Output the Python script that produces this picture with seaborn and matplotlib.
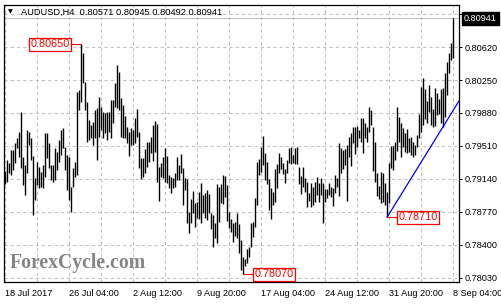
import matplotlib
matplotlib.use("Agg")
import matplotlib.pyplot as plt
import matplotlib.transforms as mtransforms
import numpy as np
import pandas as pd
import seaborn as sns

# ---------------- data (AUDUSD H4 bar highs / lows) ----------------
highs = [
    0.79234, 0.79354, 0.79316, 0.79466, 0.79466, 0.79540, 0.79596, 0.79671, 0.79895, 0.79391,
    0.79297, 0.79690, 0.79671, 0.79596, 0.79398, 0.79148, 0.79335, 0.79279, 0.79223, 0.79297,
    0.79652, 0.79652, 0.79540, 0.79297, 0.79297, 0.79484, 0.79447, 0.79578, 0.79690, 0.79709,
    0.79503, 0.79409, 0.79391, 0.79055, 0.79260, 0.79335, 0.80120, 0.80138, 0.80650, 0.80549,
    0.80232, 0.80008, 0.79802, 0.79746, 0.79783, 0.79914, 0.79933, 0.80064, 0.79952, 0.79895,
    0.79877, 0.79895, 0.79895, 0.80026,
    0.80026, 0.80213, 0.80419, 0.80344, 0.80045, 0.79970, 0.79847, 0.79727, 0.79671, 0.79709,
    0.79690, 0.79821, 0.79922, 0.79671, 0.79372, 0.79372, 0.79473, 0.79552, 0.79552, 0.79608,
    0.79746, 0.79791, 0.79753, 0.79279, 0.79324, 0.79391, 0.79484, 0.79398, 0.79185, 0.79167,
    0.79148, 0.79204, 0.79383, 0.79297, 0.79421, 0.79260, 0.79148, 0.79137, 0.78774, 0.78913,
    0.79006, 0.78875, 0.78886, 0.78999, 0.79092, 0.78961, 0.78980, 0.79017, 0.78969, 0.78763,
    0.78737, 0.78651, 0.79084, 0.79055, 0.79084, 0.79185, 0.79174, 0.79073,
    0.78774, 0.78688, 0.78643, 0.78662, 0.78755, 0.78636, 0.78456, 0.78269, 0.78240, 0.78352,
    0.78374, 0.78643, 0.78662, 0.78923, 0.79334, 0.79360, 0.79495, 0.79622, 0.79428, 0.79334,
    0.79136, 0.79035, 0.78998, 0.79248, 0.79308, 0.79428, 0.79383, 0.79323, 0.79248, 0.79353,
    0.79484, 0.79495, 0.79409, 0.79484, 0.79503, 0.79271, 0.79173, 0.79278, 0.79147, 0.79110,
    0.78987, 0.79099, 0.79047, 0.79110, 0.79159, 0.79099, 0.79147, 0.79099, 0.79024, 0.79024,
    0.79099, 0.79054, 0.79035, 0.79185, 0.79147, 0.79540,
    0.79484, 0.79465, 0.79473, 0.79521, 0.79615, 0.79660, 0.79727, 0.79720, 0.79735, 0.79690,
    0.79820, 0.79820, 0.79764, 0.79727, 0.79944, 0.79914, 0.79720, 0.79559, 0.79211, 0.79062,
    0.79223, 0.79211, 0.79092, 0.78998, 0.79316, 0.79510, 0.79510, 0.79559, 0.79944, 0.79832,
    0.79772, 0.79708, 0.79652, 0.79697, 0.79596, 0.79615, 0.79559, 0.79521, 0.79634, 0.79869,
    0.80168, 0.80269, 0.80146, 0.80018, 0.80194, 0.80056, 0.79921, 0.80157, 0.80108, 0.80033,
    0.80146, 0.80157,
    0.80328, 0.80452, 0.80553, 0.80665, 0.80945,
]
lows = [
    0.79084, 0.79111, 0.79204, 0.79185, 0.79241, 0.79316, 0.79484, 0.79391, 0.79260, 0.79073,
    0.78961, 0.79204, 0.79522, 0.79354, 0.78737, 0.78905, 0.79073, 0.79036, 0.79055, 0.79036,
    0.79167, 0.79372, 0.79260, 0.79129, 0.79111, 0.79129, 0.79241, 0.79335, 0.79409, 0.79484,
    0.79241, 0.79017, 0.78905, 0.78774, 0.79055, 0.79167, 0.79185, 0.79914, 0.80008, 0.80213,
    0.79914, 0.79559, 0.79578, 0.79596, 0.79522, 0.79596, 0.79354, 0.79615, 0.79690, 0.79596,
    0.79652, 0.79578, 0.79671, 0.79596,
    0.79765, 0.79951, 0.79933, 0.79914, 0.79615, 0.79596, 0.79596, 0.79540, 0.79398, 0.79522,
    0.79522, 0.79540, 0.79615, 0.79260, 0.79137, 0.79167, 0.79212, 0.79279, 0.79335, 0.79436,
    0.79346, 0.79447, 0.79111, 0.78898, 0.79167, 0.79148, 0.79111, 0.79092, 0.79036, 0.78980,
    0.79036, 0.79055, 0.79129, 0.79129, 0.79204, 0.78849, 0.79017, 0.78643, 0.78539, 0.78651,
    0.78763, 0.78606, 0.78700, 0.78688, 0.78651, 0.78756, 0.78700, 0.78681, 0.78756, 0.78576,
    0.78382, 0.78475, 0.78427, 0.78662, 0.78868, 0.78860, 0.78942, 0.78673,
    0.78587, 0.78550, 0.78437, 0.78501, 0.78475, 0.78307, 0.78120, 0.78070, 0.78165, 0.78195,
    0.78269, 0.78381, 0.78493, 0.78606, 0.78848, 0.79185, 0.79222, 0.79297, 0.79129, 0.79084,
    0.78792, 0.78688, 0.78848, 0.78886, 0.79035, 0.79203, 0.79248, 0.79196, 0.79099, 0.79203,
    0.79316, 0.79308, 0.79323, 0.79308, 0.79308, 0.79084, 0.78972, 0.79054, 0.78998, 0.78830,
    0.78897, 0.78830, 0.78848, 0.78886, 0.78960, 0.78886, 0.78960, 0.78650, 0.78886, 0.78923,
    0.78960, 0.78942, 0.78837, 0.78987, 0.79054, 0.78949,
    0.79204, 0.79249, 0.79297, 0.78892, 0.79391, 0.79286, 0.79548, 0.79421, 0.79495, 0.79596,
    0.79559, 0.79428, 0.79596, 0.79559, 0.79671, 0.79746, 0.79234, 0.79110, 0.78950, 0.78912,
    0.78867, 0.78886, 0.78849, 0.78710, 0.78867, 0.79260, 0.79241, 0.79353, 0.79458, 0.79559,
    0.79391, 0.79503, 0.79447, 0.79428, 0.79447, 0.79409, 0.79391, 0.79409, 0.79503, 0.79596,
    0.79671, 0.79746, 0.79809, 0.79764, 0.79895, 0.79746, 0.79727, 0.79735, 0.79858, 0.79869,
    0.79764, 0.79727,
    0.79835, 0.80082, 0.80328, 0.80474, 0.80492,
]

x_tick_bars = [0, 32, 64, 96, 128, 160, 192, 224]
x_tick_labels = ["18 Jul 2017", "26 Jul 04:00", "2 Aug 12:00", "9 Aug 20:00",
                 "17 Aug 04:00", "24 Aug 12:00", "31 Aug 20:00", "8 Sep 04:00"]
x_grid_bars = [16, 48, 80, 112, 144, 176, 208]
y_ticks = [0.80990, 0.80620, 0.80250, 0.79880, 0.79510, 0.79140, 0.78770, 0.78400, 0.78030]

title_text = "AUDUSD,H4  0.80571 0.80945 0.80492 0.80941"
last_price = 0.80941

# swing labels: (bar index, price, side)
swing_bars = [38, 119, 191]
swing_prices = [0.80650, 0.78070, 0.78710]
swing_side = ["left", "right", "right"]

# trend line (bar index, price)
trend_bars = [191, 227]
trend_prices = [0.78710, 0.80015]

# ---------------- figure ----------------
sns.set_style("white")
plt.rcParams["font.family"] = ["Liberation Sans", "DejaVu Sans"]

W, H = 502, 304
fig = plt.figure(figsize=(W / 100, H / 100), dpi=100)
L, R, T, B = 4, 459, 5, 282
ax = fig.add_axes([L / W, 1 - B / H, (R - L) / W, (B - T) / H])

df = pd.DataFrame({"bar": np.arange(len(highs)), "high": highs, "low": lows})

ax.set_xlim(-0.5, 227)
ax.set_ylim(0.77985, 0.81091)

# grid
grid_kw = dict(color="#c0c0c0", lw=0.75, ls=(0, (3, 3)), zorder=0)
for yv in y_ticks:
    ax.axhline(yv, **grid_kw)
for xv in x_tick_bars + x_grid_bars:
    ax.axvline(xv, **grid_kw)

# current price line
ax.axhline(last_price, color="#c0c0c0", lw=0.8, zorder=0.5)

# bars
ax.vlines(df["bar"], df["low"], df["high"], color="black", lw=1.0, zorder=2)

# trend line via seaborn
tdf = pd.DataFrame({"bar": trend_bars, "price": trend_prices})
sns.lineplot(data=tdf, x="bar", y="price", ax=ax, color="#0000ff", lw=0.9, zorder=3)

# swing labels
for b, p, side in zip(swing_bars, swing_prices, swing_side):
    if side == "left":
        xt = b - 5.6
        ax.plot([xt + 0.3, b], [p, p], color="red", lw=0.8, zorder=3)
        ax.text(xt, p, f"{p:.5f}", color="red", fontsize=7.8, ha="right", va="center",
                bbox=dict(boxstyle="square,pad=0.12", fc="white", ec="red", lw=0.9), zorder=4)
    else:
        xt = b + 5.8
        ax.plot([b, xt - 0.3], [p, p], color="red", lw=0.8, zorder=3)
        ax.text(xt, p, f"{p:.5f}", color="red", fontsize=7.8, ha="left", va="center",
                bbox=dict(boxstyle="square,pad=0.12", fc="white", ec="red", lw=0.9), zorder=4)

# axes formatting
ax.set_xlabel("")
ax.set_ylabel("")
ax.set_xticks(x_tick_bars)
ax.set_xticklabels(x_tick_labels, fontsize=6.6)
for lab in ax.get_xticklabels():
    lab.set_horizontalalignment("left")
ax.yaxis.tick_right()
ax.set_yticks(y_ticks)
ax.set_yticklabels([f"{v:.5f}" for v in y_ticks], fontsize=6.6)
ax.tick_params(axis="both", length=2.5, width=0.7, color="black", direction="out",
               pad=1.5, labelcolor="black")
ax.tick_params(axis="x", pad=2.5)
for s in ax.spines.values():
    s.set_visible(True)
    s.set_color("black")
    s.set_linewidth(0.9)

# current price tag on the right
trans = mtransforms.blended_transform_factory(ax.transAxes, ax.transData)
ax.text(1.011, last_price, f"{last_price:.5f}", transform=trans, color="white",
        fontsize=6.6, ha="left", va="center", clip_on=False, zorder=10,
        bbox=dict(boxstyle="square,pad=0.25", fc="black", ec="black"))

# title
fig.text(8 / W, 1 - 12 / H, "\u25BC", fontsize=4.5, ha="left", va="center",
         family="DejaVu Sans", color="black")
fig.text(21 / W, 1 - 12 / H, title_text, fontsize=6.7, ha="left", va="center", color="black")

# watermark
ax.text((10 - L) / (R - L), (B - 268) / (B - T), "ForexCycle.com", transform=ax.transAxes,
        fontsize=14.2, fontweight="bold", family="Liberation Serif", color="#858585",
        ha="left", va="baseline", zorder=1)

fig.savefig("out.png", dpi=100)
